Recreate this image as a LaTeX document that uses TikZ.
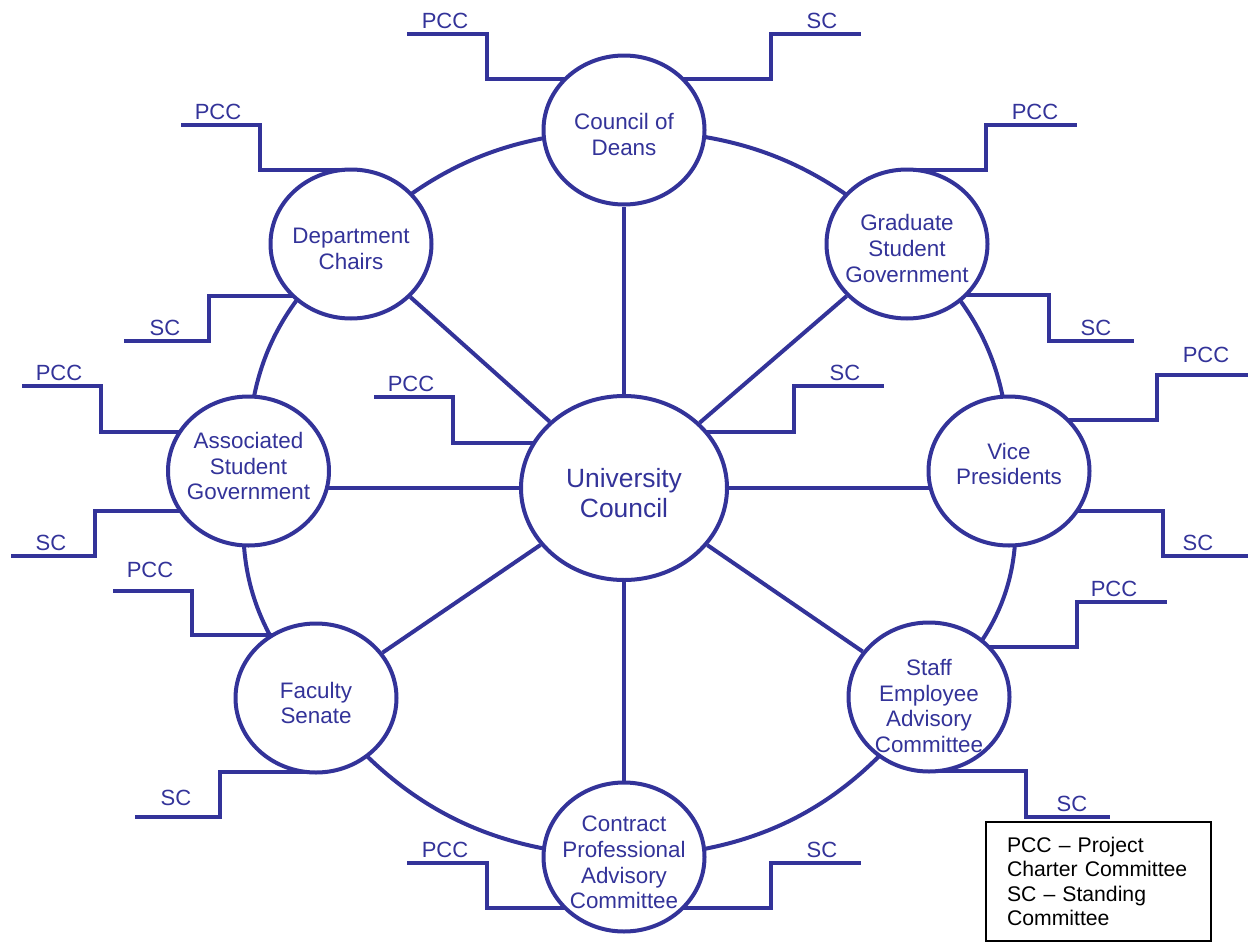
\documentclass[tikz,border=0pt]{standalone}
\usepackage{fontspec}
\setmainfont{Liberation Sans}
\usetikzlibrary{shapes.geometric}
\definecolor{ink}{RGB}{51,51,153}
\pgfdeclarelayer{bg}
\pgfsetlayers{bg,main}
\begin{document}
\begin{tikzpicture}[x=0.5pt,y=-0.5pt,
  org/.style={ellipse,draw=ink,line width=2pt,fill=white,inner sep=0pt,minimum width=80.5pt,minimum height=74.5pt},
  hub/.style={org,minimum width=103pt,minimum height=92pt},
  lbl/.style={text=ink,align=center,font=\fontsize{11.2}{12.9}\selectfont,inner sep=0pt},
  biglbl/.style={lbl,font=\fontsize{13.2}{15}\selectfont},
  wire/.style={draw=ink,line width=2pt},
  cmt/.style={text=ink,font=\fontsize{11}{13}\selectfont,anchor=base,inner sep=0pt},
]
\useasboundingbox (0,0) rectangle (1248,942);

% nodes
\node[hub] (uc) at (624,488) {};
\node[org] (cod) at (624,130) {};
\node[org] (dc) at (351,244) {};
\node[org] (gsg) at (907,244) {};
\node[org] (asg) at (248.5,471) {};
\node[org] (vp) at (1009,471) {};
\node[org] (fac) at (316,698) {};
\node[org] (staff) at (929,697) {};
\node[org] (cpac) at (624,857) {};

% node texts
\node[biglbl] (uct) at ([yshift=-2.5pt]uc.center) {University\\Council};
\node[lbl] (codt) at ([yshift=-2.25pt]cod.center) {Council of\\Deans};
\node[lbl] (dct) at ([yshift=-2.5pt]dc.center) {Department\\Chairs};
\node[lbl] (gsgt) at ([yshift=-2.25pt]gsg.center) {Graduate\\Student\\Government};
\node[lbl] (asgt) at ([yshift=2.5pt]asg.center) {Associated\\Student\\Government};
\node[lbl] (vpt) at ([yshift=3.5pt]vp.center) {Vice\\Presidents};
\node[lbl] (fact) at ([yshift=-2.5pt]fac.center) {Faculty\\Senate};
\node[lbl] (stafft) at ([yshift=-4.5pt]staff.center) {Staff\\Employee\\Advisory\\Committee};
\node[lbl] (cpact) at ([yshift=-2.75pt]cpac.center) {Contract\\Professional\\Advisory\\Committee};

% legend
\node[draw=black,line width=1pt,minimum height=59.5pt,text width=91.5pt,inner xsep=10.5pt,inner ysep=0pt,align=left,font=\fontsize{10.6}{12.2}\selectfont] (key) at (1098.5,881.5) {PCC – Project\\Charter Committee\\SC – Standing\\Committee};

% free ends of the committee lines
\coordinate (e1) at (407,34);
\coordinate (e2) at (861,34);
\coordinate (e3) at (181,125);
\coordinate (e4) at (124,341);
\coordinate (e5) at (1077,125);
\coordinate (e6) at (1134,341);
\coordinate (e7) at (22,386);
\coordinate (e8) at (11,556);
\coordinate (e9) at (374,397);
\coordinate (e10) at (884,386);
\coordinate (e11) at (1248,375);
\coordinate (e12) at (1248,556);
\coordinate (e13) at (113,591);
\coordinate (e14) at (135,817);
\coordinate (e15) at (1167,602);
\coordinate (e16) at (1110,817);
\coordinate (e17) at (407,863);
\coordinate (e18) at (861,863);

% committee labels
\node[cmt] (l1) at (445,28) {PCC};
\node[cmt] (l2) at (822,28) {SC};
\node[cmt] (l3) at (218,119) {PCC};
\node[cmt] (l4) at (165,335) {SC};
\node[cmt] (l5) at (1035,119) {PCC};
\node[cmt] (l6) at (1096,335) {SC};
\node[cmt] (l7) at (59,380) {PCC};
\node[cmt] (l8) at (51,550) {SC};
\node[cmt] (l9) at (411,391) {PCC};
\node[cmt] (l10) at (845,380) {SC};
\node[cmt] (l11) at (1206,362) {PCC};
\node[cmt] (l12) at (1198,550) {SC};
\node[cmt] (l13) at (150,577) {PCC};
\node[cmt] (l14) at (176,805) {SC};
\node[cmt] (l15) at (1114,596) {PCC};
\node[cmt] (l16) at (1072,811) {SC};
\node[cmt] (l17) at (445,857) {PCC};
\node[cmt] (l18) at (822,857) {SC};

\begin{pgfonlayer}{bg}
% ring
\draw[wire] (cod.center) to[bend left=21] (gsg.center);
\draw[wire] (gsg.center) to[bend left=25] (vp.center);
\draw[wire] (vp.center) to[bend left=32] (staff.center);
\draw[wire] (staff.center) to[bend left=26.5] (cpac.center);
\draw[wire] (cpac.center) to[bend left=25.6] (fac.center);
\draw[wire] (fac.center) to[bend left=26.5] (asg.center);
\draw[wire] (asg.center) to[bend left=26] (dc.center);
\draw[wire] (dc.center) to[bend left=21] (cod.center);
% spokes
\draw[wire] (uc) -- (cod);
\draw[wire] (uc) -- (gsg);
\draw[wire] (uc) -- (uc -| vp);
\draw[wire] (uc) -- (staff);
\draw[wire] (uc) -- (cpac);
\draw[wire] (uc) -- (fac);
\draw[wire] (uc) -- (uc -| asg);
\draw[wire] (uc) -- (dc);
% committee steps
\draw[wire] (cod.center |- 0,79) -| (487,34) -- (e1);
\draw[wire] (cod.center |- 0,79) -| (771,34) -- (e2);
\draw[wire] (dc.center |- 0,170) -| (260,125) -- (e3);
\draw[wire] (dc.center |- 0,296) -| (209,341) -- (e4);
\draw[wire] (gsg.center |- 0,170) -| (986,125) -- (e5);
\draw[wire] (gsg.center |- 0,295) -| (1049,341) -- (e6);
\draw[wire] (asg.center |- 0,432) -| (101,386) -- (e7);
\draw[wire] (asg.center |- 0,511) -| (95,556) -- (e8);
\draw[wire] (uc.center |- 0,443) -| (453,397) -- (e9);
\draw[wire] (uc.center |- 0,432) -| (794,386) -- (e10);
\draw[wire] (vp.center |- 0,420) -| (1157,375) -- (e11);
\draw[wire] (vp.center |- 0,511) -| (1163,556) -- (e12);
\draw[wire] (fac.center |- 0,635) -| (192,591) -- (e13);
\draw[wire] (fac.center |- 0,772) -| (220,817) -- (e14);
\draw[wire] (staff.center |- 0,647) -| (1077,602) -- (e15);
\draw[wire] (staff.center |- 0,771) -| (1026,817) -- (e16);
\draw[wire] (cpac.center |- 0,908) -| (487,863) -- (e17);
\draw[wire] (cpac.center |- 0,908) -| (771,863) -- (e18);
\end{pgfonlayer}
\end{tikzpicture}
\end{document}
